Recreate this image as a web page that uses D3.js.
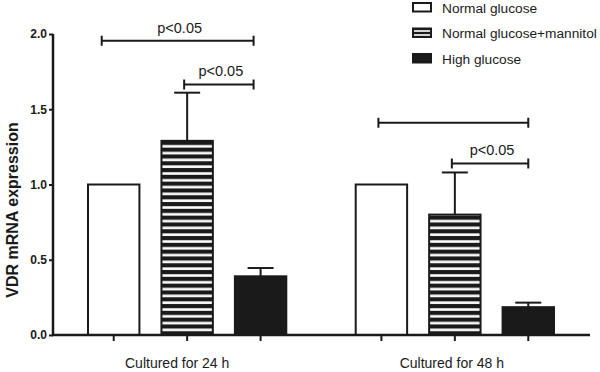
<!DOCTYPE html>
<html>
<head>
<meta charset="utf-8">
<script src="https://cdn.jsdelivr.net/npm/d3@7"></script>
<style>
  body { margin: 0; background: #fff; }
  text { font-family: "Liberation Sans", Arial, sans-serif; fill: #1a1a1a; }
</style>
</head>
<body>
<div id="chart"></div>
<script>
// Datos
const groups = ["Cultured for 24 h", "Cultured for 48 h"]
const series = ["Normal glucose", "Normal glucose+mannitol", "High glucose"]
const means24 = [1.0, 1.29, 0.39]
const sem24 = [0, 0.32, 0.055]
const means48 = [1.0, 0.80, 0.185]
const sem48 = [0, 0.28, 0.03]
const yTicks = [0, 0.5, 1.0, 1.5, 2.0]
// comparaciones: grupo, serie desde, serie hasta, altura, etiqueta
const brackets = [
    { group: 0, from: 0, to: 2, y: 1.955, label: "p<0.05" },
    { group: 0, from: 1, to: 2, y: 1.665, label: "p<0.05" },
    { group: 1, from: 0, to: 2, y: 1.41, label: "" },
    { group: 1, from: 1, to: 2, y: 1.14, label: "p<0.05" }
]

const width = 600, height = 372
const dark = "#1a1a1a"

const data = []
groups.forEach((g, gi) => {
    const m = gi === 0 ? means24 : means48
    const s = gi === 0 ? sem24 : sem48
    series.forEach((name, si) => data.push({ group: g, gi, series: name, si, value: m[si], sem: s[si] }))
})

const svg = d3.select("#chart").append("svg")
    .attr("width", width)
    .attr("height", height)

// Patrón de rayas horizontales
const defs = svg.append("defs")
defs.append("pattern")
    .attr("id", "stripes")
    .attr("patternUnits", "userSpaceOnUse")
    .attr("width", 8).attr("height", 6.8)
    .call(p => p.append("rect").attr("width", 8).attr("height", 6.8).attr("fill", dark))
    .call(p => p.append("rect").attr("y", 2.2).attr("width", 8).attr("height", 2.6).attr("fill", "#fff"))
defs.append("pattern")
    .attr("id", "stripesLegend")
    .attr("patternUnits", "userSpaceOnUse")
    .attr("width", 8).attr("height", 4)
    .attr("y", 1)
    .call(p => p.append("rect").attr("width", 8).attr("height", 4).attr("fill", dark))
    .call(p => p.append("rect").attr("y", 1.2).attr("width", 8).attr("height", 1.6).attr("fill", "#fff"))

const fills = ["#fff", "url(#stripes)", dark]
const legendFills = ["#fff", "url(#stripesLegend)", dark]

// Escalas
const x0 = d3.scaleBand().domain(groups).range([77, 565]).paddingInner(0.177).paddingOuter(0)
const x1 = d3.scaleBand().domain(series).range([0, x0.bandwidth()]).paddingInner(0.3).paddingOuter(0.15)
const y = d3.scaleLinear().domain([0, 2]).range([335, 34])

const cx = d => x0(d.group) + x1(d.series) + x1.bandwidth() / 2

// Barras
svg.append("g")
    .selectAll("rect")
    .data(data)
    .join("rect")
    .attr("x", d => x0(d.group) + x1(d.series))
    .attr("y", d => y(d.value))
    .attr("width", x1.bandwidth())
    .attr("height", d => y(0) - y(d.value))
    .attr("fill", d => fills[d.si])
    .attr("stroke", dark)
    .attr("stroke-width", 2)

// Barras de error (solo hacia arriba)
const err = svg.append("g").attr("stroke", dark).attr("stroke-width", 2)
data.filter(d => d.sem > 0).forEach(d => {
    err.append("line")
        .attr("x1", cx(d)).attr("x2", cx(d))
        .attr("y1", y(d.value)).attr("y2", y(d.value + d.sem))
    err.append("line")
        .attr("x1", cx(d) - 13).attr("x2", cx(d) + 13)
        .attr("y1", y(d.value + d.sem)).attr("y2", y(d.value + d.sem))
})

// Ejes
svg.append("g")
    .attr("transform", "translate(53,0)")
    .call(d3.axisLeft(y).tickValues(yTicks).tickFormat(d3.format(".1f")).tickSize(4).tickPadding(2))
    .call(g => g.select(".domain").attr("stroke", dark).attr("stroke-width", 2.5).attr("d", `M0,${y(2)}V${y(0) + 1}`))
    .call(g => g.selectAll(".tick line").attr("stroke", dark).attr("stroke-width", 2))
    .call(g => g.selectAll(".tick text")
        .style("font-family", "'Liberation Sans', Arial, sans-serif")
        .style("font-size", "12px").style("font-weight", "bold").attr("fill", dark))

svg.append("line")
    .attr("x1", 52).attr("x2", 590)
    .attr("y1", y(0)).attr("y2", y(0))
    .attr("stroke", dark).attr("stroke-width", 2.5)

svg.append("g")
    .selectAll("line")
    .data(data)
    .join("line")
    .attr("x1", cx).attr("x2", cx)
    .attr("y1", y(0)).attr("y2", y(0) + 6)
    .attr("stroke", dark).attr("stroke-width", 2)

svg.append("g")
    .selectAll("text")
    .data(groups)
    .join("text")
    .attr("x", (d, i) => x0(d) + x0.bandwidth() / 2 - (i === 0 ? 10 : 3))
    .attr("y", 368)
    .attr("text-anchor", "middle")
    .style("font-size", "14px")
    .text(d => d)

svg.append("text")
    .attr("transform", "rotate(-90)")
    .attr("x", -210)
    .attr("y", 18)
    .attr("text-anchor", "middle")
    .style("font-size", "16px")
    .style("font-weight", "bold")
    .text("VDR mRNA expression")

// Corchetes de significancia
const br = svg.append("g")
brackets.forEach(b => {
    const xa = x0(groups[b.group]) + x1(series[b.from]) + x1.bandwidth() / 2
    const xb = x0(groups[b.group]) + x1(series[b.to]) + x1.bandwidth() / 2
    const yy = y(b.y)
    const a = b.from === 0 && b.group === 0 ? xa - 12 : xa - 3
    const bb = b.group === 0 ? xb - 7 : xb
    br.append("path")
        .attr("d", `M${a},${yy}H${bb}M${a},${yy - 5}V${yy + 5}M${bb},${yy - 5}V${yy + 5}`)
        .attr("fill", "none").attr("stroke", dark).attr("stroke-width", 2)
    if (b.label) {
        br.append("text")
            .attr("x", (a + bb) / 2 + 2)
            .attr("y", yy - 8)
            .attr("text-anchor", "middle")
            .style("font-size", "14.5px")
            .text(b.label)
    }
})

// Leyenda
const leg = svg.append("g")
series.forEach((s, i) => {
    const ly = 3 + i * 25.5
    leg.append("rect")
        .attr("x", 413).attr("y", ly)
        .attr("width", 18).attr("height", 8.5)
        .attr("fill", legendFills[i])
        .attr("stroke", dark).attr("stroke-width", 2)
    leg.append("text")
        .attr("x", 442).attr("y", ly + 9.5)
        .style("font-size", "13.7px")
        .text(s)
})
</script>
</body>
</html>
